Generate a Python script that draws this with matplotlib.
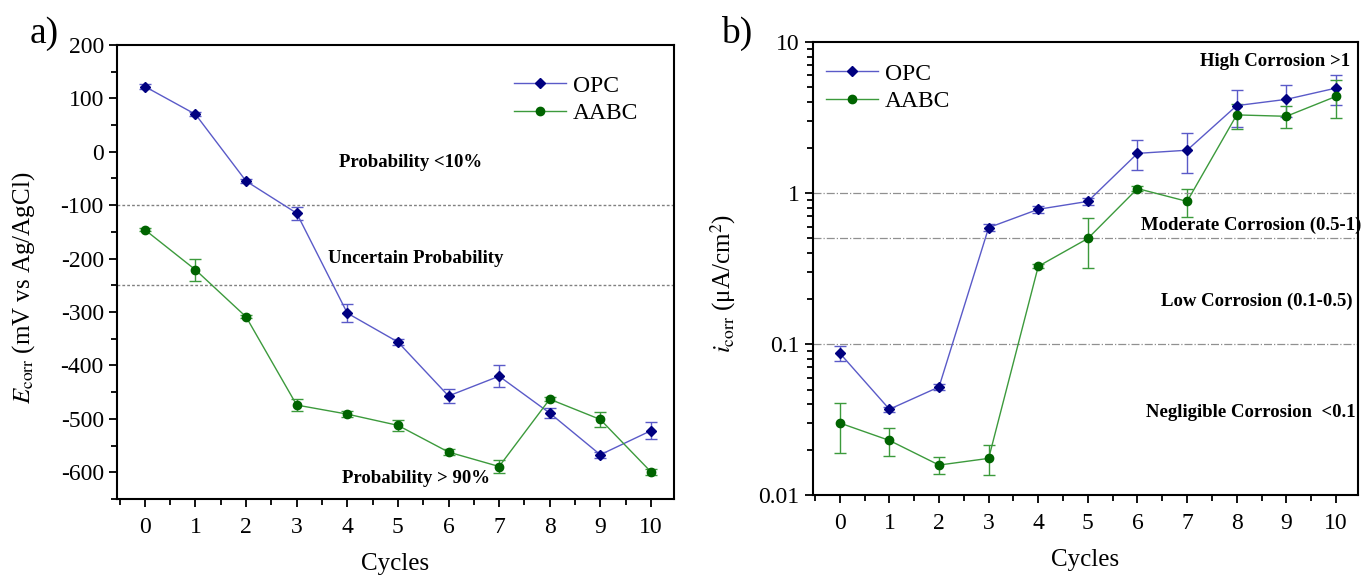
import matplotlib.pyplot as plt
import matplotlib.ticker as mticker
from matplotlib.lines import Line2D
import numpy as np

plt.rcParams['font.family'] = ['Liberation Serif', 'DejaVu Serif']
plt.rcParams['mathtext.fontset'] = 'stix'

cycles = np.arange(11)

# corrosion potential, mV vs Ag/AgCl
ecorr_opc = [122, 70, -55, -115, -302, -356, -457, -420, -489, -567, -522]
ecorr_opc_err = [4, 4, 4, 12, 17, 5, 13, 21, 9, 6, 16]
ecorr_aabc = [-146, -221, -309, -474, -491, -512, -562, -589, -463, -501, -599]
ecorr_aabc_err = [3, 21, 3, 11, 5, 10, 5, 12, 4, 14, 6]

# corrosion current density, uA/cm2
icorr_opc = [0.087, 0.037, 0.052, 0.59, 0.78, 0.88, 1.83, 1.92, 3.79, 4.17, 4.95]
icorr_opc_err = [0.0095, 0.0015, 0.0027, 0.03, 0.04, 0.05, 0.42, 0.57, 1.04, 1.0, 1.1]
icorr_aabc = [0.030, 0.023, 0.0158, 0.0175, 0.327, 0.50, 1.07, 0.88, 3.29, 3.22, 4.36]
icorr_aabc_err = [0.011, 0.0049, 0.002, 0.004, 0.01, 0.18, 0.04, 0.19, 0.62, 0.52, 1.2]

opc_line, opc_mark = '#5a5ac8', '#000080'
aabc_line, aabc_mark = '#3c9a3c', '#006400'

fig = plt.figure(figsize=(13.61, 5.75), dpi=100)
ax1 = fig.add_axes([0.086, 0.132, 0.409, 0.79])
ax2 = fig.add_axes([0.597, 0.139, 0.401, 0.788])

handles = [
    Line2D([], [], color=opc_line, lw=1, marker='D', ms=5, mfc=opc_mark, mec=opc_mark, label='OPC'),
    Line2D([], [], color=aabc_line, lw=1, marker='o', ms=6, mfc=aabc_mark, mec=aabc_mark, label='AABC'),
]


def draw(ax, y_opc, e_opc, y_aabc, e_aabc):
    ax.errorbar(cycles, y_opc, yerr=e_opc, color=opc_line, lw=1, marker='D', ms=5,
                mfc=opc_mark, mec=opc_mark, capsize=4, elinewidth=1)
    ax.errorbar(cycles, y_aabc, yerr=e_aabc, color=aabc_line, lw=1, marker='o', ms=6,
                mfc=aabc_mark, mec=aabc_mark, capsize=4, elinewidth=1)
    ax.set_xlim(-0.55, 10.45)
    ax.xaxis.set_major_locator(mticker.MultipleLocator(1))
    ax.xaxis.set_minor_locator(mticker.MultipleLocator(0.5))
    ax.tick_params(which='both', direction='out', top=False, right=False, labelsize=17, width=1.3)
    ax.tick_params(which='major', length=6)
    ax.tick_params(which='minor', length=4)
    ax.tick_params(axis='x', pad=7)
    for s in ax.spines.values():
        s.set_linewidth(1.5)
    ax.set_xlabel('Cycles', fontsize=18, labelpad=11)


# a) corrosion potential
draw(ax1, ecorr_opc, ecorr_opc_err, ecorr_aabc, ecorr_aabc_err)
ax1.set_ylim(-650, 200)
ax1.yaxis.set_major_locator(mticker.MultipleLocator(100))
ax1.yaxis.set_minor_locator(mticker.MultipleLocator(50))
ax1.yaxis.set_major_formatter(mticker.FuncFormatter(lambda v, p: f'{v:.0f}'))
for lvl in (-100, -250):
    ax1.axhline(lvl, color='#808080', ls=(0, (2, 1.5)), lw=1)
ax1.set_ylabel(r'$E_{\mathrm{corr}}$ (mV vs Ag/AgCl)', fontsize=18)
ax1.yaxis.set_label_coords(-0.143, 0.465)
ax1.text(5.25, -20, 'Probability <10%', fontsize=13.5, fontweight='bold', ha='center', va='center')
ax1.text(5.35, -200, 'Uncertain Probability', fontsize=13.5, fontweight='bold', ha='center', va='center')
ax1.text(5.35, -612, 'Probability > 90%', fontsize=13.5, fontweight='bold', ha='center', va='center')
ax1.legend(handles=handles, loc='upper right', bbox_to_anchor=(0.975, 0.98), frameon=False,
           fontsize=17, handlelength=2.2, handletextpad=0.3, labelspacing=0.25)
fig.text(0.022, 0.925, 'a)', fontsize=27)

# b) corrosion current density
draw(ax2, icorr_opc, icorr_opc_err, icorr_aabc, icorr_aabc_err)
ax2.set_yscale('log')
ax2.set_ylim(0.01, 10)
ax2.yaxis.set_major_formatter(mticker.FuncFormatter(lambda v, p: f'{v:g}'))
ax2.yaxis.set_minor_formatter(mticker.NullFormatter())
for lvl in (1, 0.5, 0.1):
    ax2.axhline(lvl, color='#909090', ls='-.', lw=0.9)
ax2.set_ylabel(r'$i_{\mathrm{corr}}$ (μA/cm$^2$)', fontsize=18)
ax2.yaxis.set_label_coords(-0.137, 0.468)
ax2.text(0.985, 0.975, 'High Corrosion >1', transform=ax2.transAxes, fontsize=13.5,
         fontweight='bold', ha='right', va='top')
ax2.text(1.005, 0.596, 'Moderate Corrosion (0.5-1)', transform=ax2.transAxes, fontsize=13.5,
         fontweight='bold', ha='right', va='center')
ax2.text(0.99, 0.427, 'Low Corrosion (0.1-0.5)', transform=ax2.transAxes, fontsize=13.5,
         fontweight='bold', ha='right', va='center')
ax2.text(0.995, 0.182, 'Negligible Corrosion  <0.1', transform=ax2.transAxes, fontsize=13.5,
         fontweight='bold', ha='right', va='center')
ax2.legend(handles=handles, loc='upper left', bbox_to_anchor=(-0.015, 1.0), frameon=False,
           fontsize=17, handlelength=2.2, handletextpad=0.3, labelspacing=0.25)
fig.text(0.53, 0.925, 'b)', fontsize=27)

fig.savefig('out.png', dpi=100)
